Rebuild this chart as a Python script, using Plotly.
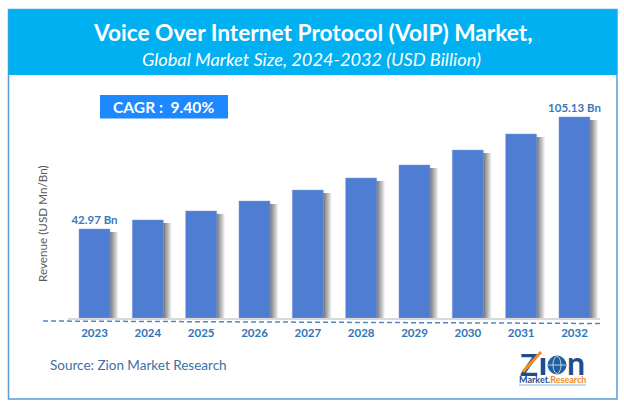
import plotly.graph_objects as go

years = ["2023", "2024", "2025", "2026", "2027", "2028", "2029", "2030", "2031", "2032"]
revenue = [42.97, 48.0, 53.0, 58.5, 64.6, 71.3, 78.5, 86.8, 95.7, 105.13]
bar_labels = ["42.97 Bn", "", "", "", "", "", "", "", "", "105.13 Bn"]
title_text = "Voice Over Internet Protocol (VoIP) Market,"
subtitle_text = "Global Market Size, 2024-2032 (USD Billion)"
cagr_text = "CAGR :  9.40%"
source_text = "Source: Zion Market Research"
ytitle_text = "Revenue (USD Mn/Bn)"

W, H = 624, 408
L, R, T, B = 68, 600, 85, 318   # plot area in page pixels
PX_PER_UNIT = 1.802
FLOOR = -6.4                    # bars do not start at zero in the original
STEP = 53.33
FONT = "Lato"


def xp(px):
    return (px - L) / (R - L)


def yp(py):
    return (B - py) / (B - T)


heights = [v - FLOOR for v in revenue]
bar_w = 31 / STEP

fig = go.Figure()

# soft shadow on the right of every bar, widest and palest strip first
for n in range(9, 0, -1):
    shade = int(120 + (255 - 120) * (n / 9) ** 1.2)
    fig.add_trace(go.Bar(
        x=years, y=[h - 3 / PX_PER_UNIT for h in heights], base=FLOOR,
        width=n / STEP, offset=bar_w / 2,
        marker=dict(color=f"rgb({shade},{shade},{shade})", line_width=0),
        hoverinfo="skip", showlegend=False,
    ))

fig.add_trace(go.Bar(
    x=years, y=heights, base=FLOOR, width=bar_w,
    marker=dict(color="#4F7DD1", line=dict(color="#7FA0E0", width=0.5)),
    text=bar_labels, textposition="outside", cliponaxis=False, constraintext="none",
    textfont=dict(family=FONT, size=11.5, color="#3C78B8", weight="bold"),
    customdata=revenue, hovertemplate="%{x}: %{customdata} Bn<extra></extra>",
    showlegend=False,
))

shapes = [
    # outer frame and header band
    dict(type="rect", x0=xp(8.5), x1=xp(617), y0=yp(9.5), y1=yp(399),
         xref="paper", yref="paper", line=dict(color="#5B9BD5", width=1.5), layer="below"),
    dict(type="rect", x0=xp(8.5), x1=xp(617), y0=yp(9.5), y1=yp(75),
         xref="paper", yref="paper", fillcolor="#00B0F0", line_width=0, layer="below"),
    # CAGR box
    dict(type="rect", x0=xp(100), x1=xp(228), y0=yp(95), y1=yp(118.5),
         xref="paper", yref="paper", fillcolor="#1E88FF", line_width=0, layer="below"),
    # dashed floor line
    dict(type="line", x0=xp(43), x1=xp(600), y0=yp(321), y1=yp(323.5),
         xref="paper", yref="paper", line=dict(color="#4F86C6", width=1.5, dash="5px,3px")),
    # logo: the I, globe, underline
    dict(type="line", x0=xp(543), x1=xp(543), y0=yp(358), y1=yp(375),
         xref="paper", yref="paper", line=dict(color="#1F4E8C", width=4.5)),
    dict(type="circle", x0=xp(548), x1=xp(566), y0=yp(356), y1=yp(374),
         xref="paper", yref="paper", fillcolor="#1F5FA0", line=dict(color="#1F5FA0", width=1)),
    dict(type="circle", x0=xp(553), x1=xp(561), y0=yp(356.5), y1=yp(373.5),
         xref="paper", yref="paper", line=dict(color="#DCE9F5", width=0.8)),
    dict(type="line", x0=xp(548.5), x1=xp(565.5), y0=yp(365), y1=yp(365),
         xref="paper", yref="paper", line=dict(color="#DCE9F5", width=0.8)),
    dict(type="line", x0=xp(519), x1=xp(586), y0=yp(385), y1=yp(385),
         xref="paper", yref="paper", line=dict(color="#8DB4DC", width=1)),
]


def label(text, px, py, size, color, weight="normal", style="normal", anchor="center", angle=0):
    return dict(
        text=text, x=xp(px), y=yp(py), xref="paper", yref="paper", showarrow=False,
        xanchor=anchor, yanchor="middle", textangle=angle,
        font=dict(family=FONT, size=size, color=color, weight=weight, style=style),
    )


annotations = [
    label(title_text, 313, 32, 22.7, "#FFFFFF", weight="bold"),
    label(subtitle_text, 311, 59, 18.2, "#FFFFFF", style="italic"),
    label(cagr_text, 163, 107, 15.6, "#FFFFFF", weight="bold"),
    label(source_text, 47.5, 365, 13.5, "#3B6FA5", anchor="left"),
    label(ytitle_text, 42, 224, 11.7, "#595959", angle=-90),
    # logo lettering
    label("Z", 529, 364, 30, "#1F4E8C", weight="bold"),
    label("n", 576, 362, 32, "#1F4E8C", weight="bold"),
    label("Market.<span style='color:#F28C1E'>Research</span>", 552, 379, 9, "#1F4E8C",
          weight="bold"),
    # orange stroke across the Z, an arrow so that it sits above the letter
    dict(text=" ", x=xp(541), y=yp(352), xref="paper", yref="paper", showarrow=True,
         ax=-21, ay=23, arrowhead=0, arrowwidth=3, arrowcolor="#F28C1E", standoff=0),
]

fig.update_layout(
    width=W, height=H,
    margin=dict(l=L, r=W - R, t=T, b=H - B, pad=0),
    paper_bgcolor="#FFFFFF", plot_bgcolor="rgba(0,0,0,0)",
    barmode="overlay", showlegend=False,
    shapes=shapes, annotations=annotations,
    xaxis=dict(
        type="category", range=[(L - 94.5) / STEP, (R - 94.5) / STEP],
        showline=True, linecolor="#D9D9D9", linewidth=1.5, showgrid=False, ticks="",
        ticklabelstandoff=3,
        tickfont=dict(family=FONT, size=11.5, color="#2E75B6", weight="bold"),
    ),
    yaxis=dict(
        range=[FLOOR, FLOOR + (B - T) / PX_PER_UNIT],
        visible=False, showgrid=False, zeroline=False,
    ),
)

# the browser's default body margin would push the whole chart 8 px off
fig.write_html("out.html", config=dict(displayModeBar=False),
               post_script="document.body.style.margin = '0';")
